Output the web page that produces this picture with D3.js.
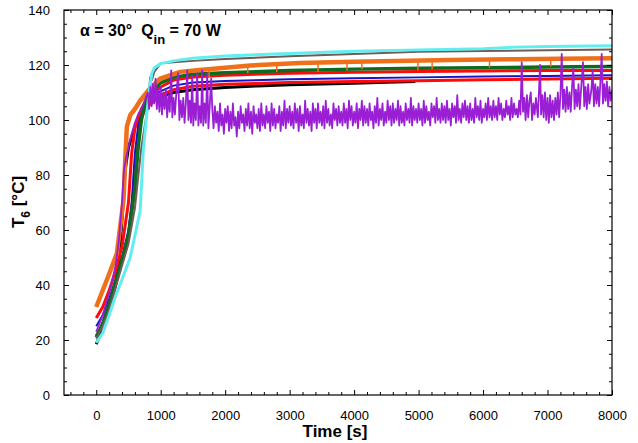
<!DOCTYPE html>
<html>
<head>
<meta charset="utf-8">
<script src="https://cdn.jsdelivr.net/npm/d3@7"></script>
<style>
  body { margin: 0; background: #fff; }
  svg text { font-family: "Liberation Sans", Arial, sans-serif; white-space: pre; }
</style>
</head>
<body>
<svg id="chart" width="638" height="443"></svg>
<script>
// tick values
var xTicks = [0, 1000, 2000, 3000, 4000, 5000, 6000, 7000, 8000];
var yTicks = [0, 20, 40, 60, 80, 100, 120, 140];

// [time s, T6 °C]
var blackData = [[0,18.5],[100,24],[200,31],[300,40],[350,48],[400,64],[450,82],[500,90],[600,97.5],[700,102],[790,105],[850,106.5],[1000,108.5],[1200,110],[1500,111],[2000,111.8],[2500,112.4],[3000,112.8],[3500,113.1],[4000,113.4],[4500,113.7],[4950,114]];
var brownData = [[0,20.5],[100,25],[200,31],[300,39],[400,47],[500,55],[600,68],[700,90],[800,105],[837,115.5],[863,114.5],[900,117.5],[1000,120.6],[1500,121.5],[2000,122.2],[3000,123.2],[4000,124],[5000,124.8],[6000,125.1],[7000,125.4],[8000,125.6]];
var greenData = [[0,21],[100,26],[200,33],[300,41],[400,49],[500,58],[600,75],[650,90],[700,100],[750,105],[850,110],[1000,113.5],[1200,115.5],[1500,116.6],[2000,117.2],[3000,118],[4000,118.5],[5000,118.8],[6000,119],[7000,119.3],[8000,119.5]];
var red1Data = [[0,28],[100,32],[200,38],[300,45],[400,54],[500,70],[550,88],[600,97],[650,101],[700,104],[800,108],[1000,112],[1200,114.5],[1500,115.6],[2000,116.3],[3000,117],[4000,117.4],[5000,117.6],[6000,117.8],[7000,118],[8000,118]];
var red2Data = [[0,21.5],[100,25],[200,32],[300,40],[400,49],[500,58],[600,78],[650,93],[700,101],[760,104],[850,106],[1000,109],[1200,111],[1500,112.3],[2000,113],[3000,113.6],[4000,114],[5000,114.3],[6000,114.6],[7000,114.9],[8000,115.2]];
var blueData = [[0,25],[100,29],[200,35],[300,42],[400,50],[500,60],[550,70],[600,88],[650,98],[700,103],[800,107],[1000,110.5],[1200,112.5],[1500,113.6],[2000,114.2],[3000,114.8],[4000,115.2],[5000,115.5],[6000,115.8],[7000,116],[8000,116.3]];
var orangeData = [[0,32],[100,38],[200,44],[320,51.5],[424,71],[450,85.5],[475,97.6],[527,101.8],[600,104],[680,107],[837,111.6],[990,115],[1300,117.5],[1600,118.2],[2000,119],[2390,119.8],[3160,120.7],[4000,121.2],[5490,121.8],[6500,122.1],[7200,122.3],[8000,122.5]];
// [time s, from °C, to °C] short downward dips on the orange trace
var orangeDips = [[1750,118.5,115.5],[2350,119.7,117],[2800,120.2,117.5],[3440,121,117.5],[3890,121.2,118],[4120,121.3,118.5],[4990,121.6,118],[5210,121.7,118.5],[6100,122,119],[7050,122.2,119.5]];
var cyanData = [[0,19],[100,22.5],[200,29],[300,36],[400,42],[527,50],[600,58],[682,67],[730,89],[790,103.6],[830,112],[863,117],[900,119],[1000,120.5],[1200,121.5],[1500,122.5],[2000,123.3],[3000,124.2],[4000,125],[5000,125.5],[6000,125.9],[6500,126.5],[7000,126.7],[8000,127]];

// purple trace: start-up and early spikes as [time, value]
var purpleStart = [[0,23],[100,29],[200,37],[300,47],[350,56],[400,70],[430,82],[460,86],[500,90],[550,95],[600,99],[650,102],[700,104],[750,107],[800,110],[820,104],[840,112],[860,105],[880,113],[900,106],[920,115],[940,104],[960,111],[980,103],[1000,112],[1020,102],[1040,110],[1060,104],[1080,111],[1100,101],[1120,109],[1140,103],[1163,118],[1180,101],[1200,108],[1220,102],[1240,109],[1271,117],[1290,100],[1310,107],[1330,101],[1350,108],[1370,99],[1390,106],[1411,118],[1430,100],[1450,107],[1470,99],[1488,116],[1505,98],[1525,106],[1545,100],[1566,117],[1585,98],[1605,105],[1625,99],[1643,118],[1660,98],[1680,106],[1700,99],[1721,117],[1740,97],[1760,105],[1783,115]];
// purple trace, steady part sampled every 20 s from 1800 s
var purpleMidStart = 1800, purpleMidStep = 20;
var purpleMid = [
    104,97,105,99,103,96,106,98,102,95,104,99,105,96,103,97,106,98,101,94,
    103,97,105,99,102,96,104,98,106,97,103,95,105,99,102,97,104,96,106,98,
    102,97,105,99,103,96,106,98,104,97,102,99,105,96,103,98,107,97,104,99,
    105,98,103,97,106,99,104,96,105,98,102,97,107,99,104,98,103,96,106,99,
    104,97,106,99,103,98,105,97,107,99,104,98,102,97,106,100,104,98,105,99,
    103,98,106,99,104,97,107,100,105,98,103,99,106,97,104,100,107,98,105,99,
    104,98,106,100,103,97,105,99,108,98,104,100,106,98,103,99,107,100,105,98,
    106,99,104,100,107,98,105,99,103,98,106,100,104,99,108,98,105,100,104,99,
    106,100,104,98,107,99,105,100,103,98,106,101,105,99,108,100,104,99,106,100,
    105,99,107,100,104,98,106,101,105,99,109,100,104,99,106,101,107,100,105,99,
    106,100,104,99,108,101,105,100,107,99,104,101,106,100,108,101,105,100,107,101,
    105,100,108,102,106,100,104,101,107,102,105,100,108,101,106,102,104,101,107,102
];
// purple trace, late part with large spikes
var purpleEnd = [[6600,121],[6620,103],[6640,108],[6660,100],[6680,109],[6700,101],[6720,107],[6740,110],[6760,100],[6780,106],[6800,102],[6820,108],[6850,101],[6884,120],[6900,102],[6920,109],[6940,101],[6960,110],[6980,100],[7000,108],[7020,99],[7040,109],[7060,101],[7080,107],[7100,100],[7120,108],[7140,102],[7160,110],[7180,101],[7200,109],[7220,124],[7240,104],[7260,111],[7280,103],[7300,112],[7320,104],[7340,110],[7360,103],[7380,112],[7400,119],[7420,104],[7440,111],[7460,105],[7480,113],[7500,104],[7520,111],[7550,121],[7570,105],[7590,112],[7610,104],[7630,113],[7650,106],[7680,111],[7700,118],[7720,105],[7740,113],[7760,106],[7780,112],[7800,105],[7820,114],[7840,124],[7860,106],[7880,113],[7900,107],[7920,114],[7940,105],[7960,112],[7980,107],[8000,111]];

var purpleData = purpleStart
    .concat(purpleMid.map(function(v, i) { return [purpleMidStart + i * purpleMidStep, v]; }))
    .concat(purpleEnd);

var seriesList = [
    {data: blackData, color: "#000000", w: 3},
    {data: red2Data, color: "#ff0a0a", w: 3},
    {data: blueData, color: "#1414c8", w: 2},
    {data: red1Data, color: "#ff0a0a", w: 3},
    {data: greenData, color: "#0b6b1e", w: 3.5},
    {data: orangeData, color: "#f0701a", w: 4.5},
    {data: brownData, color: "#6e5d57", w: 2},
    {data: cyanData, color: "#62eef0", w: 3},
    {data: purpleData, color: "#9a1fd4", w: 1.8}
];

function drawChart() {
    var svg = d3.select("#chart");
    svg.selectAll("*").remove();

    var margin = {top: 10, left: 64, right: 26, bottom: 48},
        width = 638 - margin.left - margin.right,
        height = 443 - margin.top - margin.bottom;

    var xScale = d3.scaleLinear().domain([-500, 8000]).range([0, width]),
        yScale = d3.scaleLinear().domain([0, 140]).range([height, 0]);

    var g = svg.append("g")
        .attr("transform", "translate(" + margin.left + "," + margin.top + ")");

    g.append("clipPath").attr("id", "clip")
        .append("rect").attr("width", width).attr("height", height);

    var line = d3.line()
        .x(function(d) { return xScale(d[0]); })
        .y(function(d) { return yScale(d[1]); });

    var plot = g.append("g").attr("clip-path", "url(#clip)");
    seriesList.forEach(function(s) {
        plot.append("path")
            .datum(s.data)
            .attr("fill", "none")
            .attr("stroke", s.color)
            .attr("stroke-width", s.w)
            .attr("stroke-linejoin", "round")
            .attr("d", line);
        if (s.data === orangeData) {
            plot.selectAll(".dip")
                .data(orangeDips)
                .enter().append("line")
                .attr("class", "dip")
                .attr("x1", function(d) { return xScale(d[0]); })
                .attr("x2", function(d) { return xScale(d[0]); })
                .attr("y1", function(d) { return yScale(d[1]); })
                .attr("y2", function(d) { return yScale(d[2]); })
                .attr("stroke", s.color)
                .attr("stroke-width", 1.5);
        }
    });

    var xMinor = d3.range(-400, 8000, 200).filter(function(v) { return v % 1000 !== 0; }),
        yMinor = d3.range(5, 140, 5).filter(function(v) { return v % 20 !== 0; });

    // bottom axis with labels
    g.append("g")
        .attr("class", "axis")
        .attr("transform", "translate(0," + height + ")")
        .call(d3.axisBottom(xScale).tickValues(xTicks).tickSize(-5).tickPadding(16)
            .tickFormat(d3.format("d")));
    g.append("g")
        .attr("transform", "translate(0," + height + ")")
        .call(d3.axisBottom(xScale).tickValues(xMinor).tickSize(-3).tickFormat(""));
    // top axis ticks only
    g.append("g")
        .call(d3.axisTop(xScale).tickValues(xTicks).tickSize(-5).tickFormat(""));
    g.append("g")
        .call(d3.axisTop(xScale).tickValues(xMinor).tickSize(-3).tickFormat(""));

    // left axis with labels
    g.append("g")
        .attr("class", "axis")
        .call(d3.axisLeft(yScale).tickValues(yTicks).tickSize(-5).tickPadding(14));
    g.append("g")
        .call(d3.axisLeft(yScale).tickValues(yMinor).tickSize(-3).tickFormat(""));
    // right axis ticks only
    g.append("g")
        .attr("transform", "translate(" + width + ",0)")
        .call(d3.axisRight(yScale).tickValues(yTicks).tickSize(-5).tickFormat(""));
    g.append("g")
        .attr("transform", "translate(" + width + ",0)")
        .call(d3.axisRight(yScale).tickValues(yMinor).tickSize(-3).tickFormat(""));

    g.selectAll(".domain").remove();
    g.selectAll(".tick line").attr("stroke", "#000");
    g.selectAll(".axis text")
        .attr("font-size", 13)
        .attr("fill", "#000")
        .attr("font-family", "Liberation Sans, Arial, sans-serif");

    g.append("rect")
        .attr("width", width)
        .attr("height", height)
        .attr("fill", "none")
        .attr("stroke", "#000")
        .attr("stroke-width", 1.2);

    // axis titles
    svg.append("text")
        .attr("x", 335)
        .attr("y", 437)
        .attr("text-anchor", "middle")
        .attr("font-size", 17)
        .attr("font-weight", "bold")
        .text("Time [s]");

    var yTitle = svg.append("text")
        .attr("transform", "translate(24,202) rotate(-90)")
        .attr("text-anchor", "middle")
        .attr("font-size", 17)
        .attr("font-weight", "bold");
    yTitle.append("tspan").text("T");
    yTitle.append("tspan").attr("dy", 6).attr("font-size", 12).text("6");
    yTitle.append("tspan").attr("dy", -6).text(" [°C]");

    var title = svg.append("text")
        .attr("x", 80)
        .attr("y", 36)
        .attr("font-size", 16)
        .attr("font-weight", "bold");
    title.append("tspan").text("α = 30°  Q");
    title.append("tspan").attr("dy", 8).attr("font-size", 13).text("in");
    title.append("tspan").attr("dy", -8).text(" = 70 W");
}

drawChart();
</script>
</body>
</html>
